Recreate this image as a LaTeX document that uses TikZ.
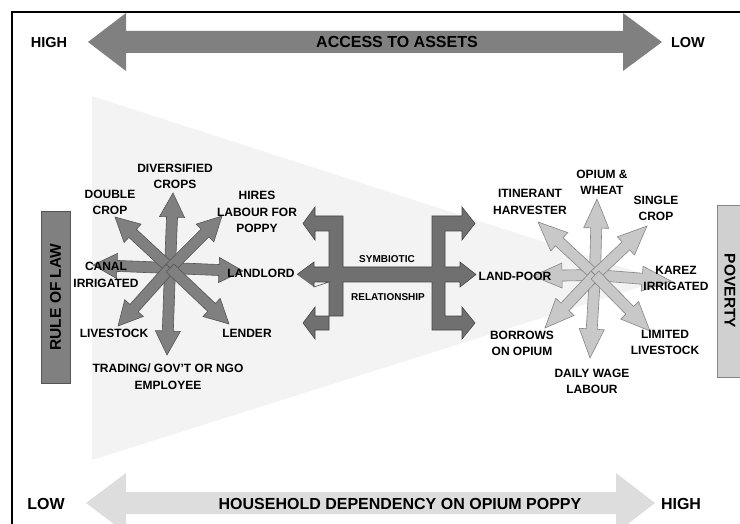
\documentclass[tikz,border=0pt]{standalone}
\usepackage{fontspec}
\setmainfont{Liberation Sans}
\definecolor{tri}{HTML}{F3F3F3}
\definecolor{topar}{HTML}{808080}
\definecolor{botar}{HTML}{DDDDDD}
\definecolor{dkfill}{HTML}{808080}
\definecolor{dkline}{HTML}{555555}
\definecolor{ltfill}{HTML}{C8C8C8}
\definecolor{ltline}{HTML}{858585}
\definecolor{midfill}{HTML}{707070}
\definecolor{midline}{HTML}{454545}
\newcommand\mystar[5]{% cx, cy, style, head length, list of tips
  \foreach \tx/\ty in {#5}{%
    \pgfmathsetmacro\ang{atan2(-(\ty-#2),\tx-#1)}%
    \pgfmathsetmacro\len{veclen(\tx-#1,\ty-#2)}%
    \draw[#3, shift={(#1,#2)}, rotate=\ang] (0,-5.5) -- ({\len-#4},-5.5) -- ({\len-#4},-12.5) -- (\len,0) -- ({\len-#4},12.5) -- ({\len-#4},5.5) -- (0,5.5) -- cycle;
  }%
}
\begin{document}
\begin{tikzpicture}[x=1pt,y=-1pt,
  lbl/.style={font=\bfseries\fontsize{12}{16.5}\selectfont, align=center, inner sep=0pt},
  big/.style={font=\bfseries\fontsize{16}{18}\selectfont, inner sep=0pt},
  mid/.style={font=\bfseries\fontsize{10}{12}\selectfont, inner sep=0pt},
  darkstar/.style={fill=dkfill, draw=dkline, line width=0.6pt},
  lightstar/.style={fill=ltfill, draw=ltline, line width=0.6pt},
  midar/.style={fill=midfill, draw=midline, line width=0.6pt}]
\useasboundingbox (0,0) rectangle (740,524);
\begin{scope}
\clip (0,0) rectangle (740,524);
% background wedge
\fill[tri] (92,96) -- (662,280) -- (92,460) -- cycle;
% frame
\draw[line width=1.5pt] (12,540) -- (12,12) -- (760,12);
% top arrow
\fill[topar] (88,42) -- (126,13) -- (126,31) -- (623,31) -- (623,13) -- (662,42) -- (623,71) -- (623,53) -- (126,53) -- (126,71) -- cycle;
% bottom arrow
\fill[botar] (86,503) -- (126,473) -- (126,492) -- (616,492) -- (616,473) -- (655,503) -- (616,533) -- (616,514) -- (126,514) -- (126,533) -- cycle;
\end{scope}
\node[big, font=\bfseries\fontsize{14.5}{16}\selectfont] (hightop) at (49,43) {HIGH};
\node[big, font=\bfseries\fontsize{14.5}{16}\selectfont] (lowtop) at (688,43) {LOW};
\node[big] (access) at (397,42) {ACCESS TO ASSETS};
\node[big] (lowbot) at (46,504) {LOW};
\node[big] (house) at (400,504) {HOUSEHOLD DEPENDENCY ON OPIUM POPPY};
\node[big] (highbot) at (681,504) {HIGH};
% side boxes
\draw[fill=dkfill, draw=dkline, line width=0.8pt] (41,211) rectangle (70,383);
\node[font=\bfseries\fontsize{15.5}{17}\selectfont, rotate=90, inner sep=0pt] (law) at (55.5,297) {RULE OF LAW};
\draw[fill=ltfill!85, draw=ltline, line width=0.8pt] (717,205) rectangle (742,377);
\node[font=\bfseries\fontsize{15.5}{17}\selectfont, rotate=-90, inner sep=0pt] (pov) at (730,291) {POVERTY};
% left star
\mystar{170}{268}{darkstar}{24}{173/193, 167/355, 93/265, 243/271, 115/217, 222/216, 118/326, 229/324}
% right star
\mystar{595}{275}{lightstar}{29}{597/199, 590/358, 533/276, 671/281, 538/222, 647/226, 545/328, 650/331}
% middle connector
\fill[midfill] (329,270) -- (329,231) -- (315,231) -- (315,240) -- (303,223.5) -- (315,207) -- (315,216) -- (343,216) -- (343,270) -- cycle;
\draw[midline, line width=0.6pt] (329,267) -- (329,231) -- (315,231) -- (315,240) -- (303,223.5) -- (315,207) -- (315,216) -- (343,216) -- (343,267);
\fill[midfill] (329,279) -- (329,330) -- (315,330) -- (315,339) -- (303,323) -- (315,307) -- (315,316) -- (343,316) -- (343,279) -- cycle;
\draw[midline, line width=0.6pt] (329,282) -- (329,330) -- (315,330) -- (315,339) -- (303,323) -- (315,307) -- (315,316) -- (343,316) -- (343,282);
\fill[midfill] (432,270) -- (432,216) -- (462,216) -- (462,207) -- (475,223.5) -- (462,240) -- (462,231) -- (445,231) -- (445,270) -- cycle;
\draw[midline, line width=0.6pt] (432,267) -- (432,216) -- (462,216) -- (462,207) -- (475,223.5) -- (462,240) -- (462,231) -- (445,231) -- (445,267);
\fill[midfill] (432,279) -- (432,330) -- (462,330) -- (462,339) -- (475,323) -- (462,307) -- (462,316) -- (445,316) -- (445,279) -- cycle;
\draw[midline, line width=0.6pt] (432,282) -- (432,330) -- (462,330) -- (462,339) -- (475,323) -- (462,307) -- (462,316) -- (445,316) -- (445,282);
\fill[midfill] (297,274.5) -- (314,262) -- (314,267) -- (460,267) -- (460,262) -- (476,274.5) -- (460,287) -- (460,282) -- (314,282) -- (314,287) -- cycle;
\draw[midline, line width=0.6pt] (297,274.5) -- (314,262) -- (314,267) -- (329,267) (343,267) -- (432,267) (445,267) -- (460,267) -- (460,262) -- (476,274.5) -- (460,287) -- (460,282) -- (445,282) (432,282) -- (343,282) (329,282) -- (314,282) -- (314,287) -- cycle;
\node[mid] (sym) at (387,259) {SYMBIOTIC};
\node[mid] (rel) at (388,297) {RELATIONSHIP};
% left labels
\node[lbl] (div) at (175,176.5) {DIVERSIFIED\\CROPS};
\node[lbl] (dbl) at (110,202.5) {DOUBLE\\CROP};
\node[lbl] (hires) at (257,212) {HIRES\\LABOUR FOR\\POPPY};
\node[lbl] (canal) at (106,275) {CANAL\\IRRIGATED};
\node[lbl] (land) at (261,273) {LANDLORD};
\node[lbl] (live) at (114,333) {LIVESTOCK};
\node[lbl] (lend) at (247,333) {LENDER};
\node[lbl] (trad) at (168,376.5) {TRADING/ GOV'T OR NGO\\EMPLOYEE};
% right labels
\node[lbl] (opium) at (602,182.5) {OPIUM \&\\WHEAT};
\node[lbl] (itin) at (530,202) {ITINERANT\\HARVESTER};
\node[lbl] (single) at (656,208.5) {SINGLE\\CROP};
\node[lbl] (karez) at (676,278.5) {KAREZ\\IRRIGATED};
\node[lbl] (poor) at (515,276) {LAND-POOR};
\node[lbl] (borrow) at (522,343.5) {BORROWS\\ON OPIUM};
\node[lbl] (limit) at (665,342.5) {LIMITED\\LIVESTOCK};
\node[lbl] (daily) at (592,381.5) {DAILY WAGE\\LABOUR};
\end{tikzpicture}
\end{document}
